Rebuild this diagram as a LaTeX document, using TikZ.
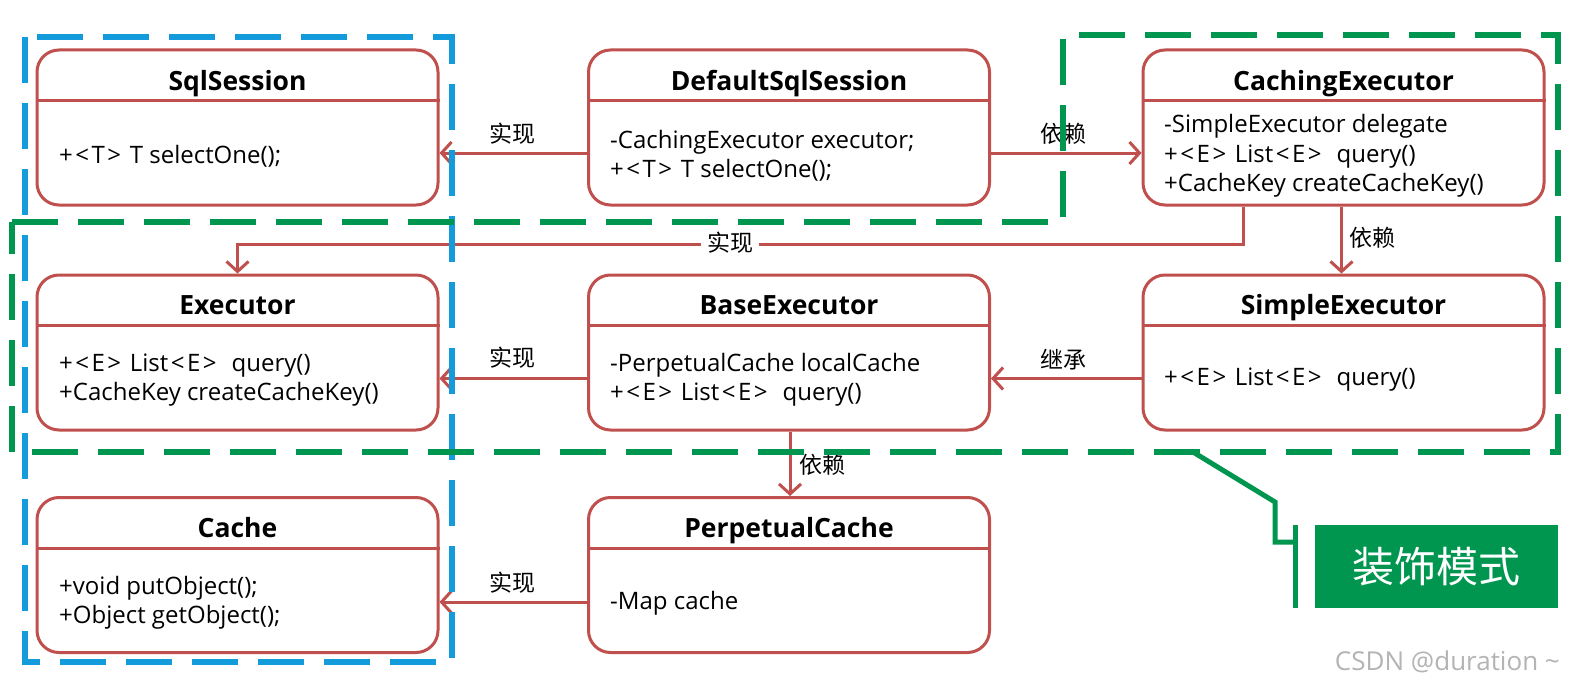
\documentclass[tikz,border=0pt]{standalone}
\usepackage{fontspec}
\setmainfont{Open Sans}
\newfontfamily\cjk{Noto Sans CJK SC}
\usetikzlibrary{arrows.meta,calc}
\definecolor{umlred}{RGB}{192,80,77}
\definecolor{dblue}{RGB}{20,155,220}
\definecolor{dgreen}{RGB}{0,150,80}
\definecolor{wmgray}{RGB}{180,180,180}
\newcommand\myLT{\kern2.5pt<\kern2.5pt}
\newcommand\myGT{\kern2.5pt>\kern2.5pt}
\begin{document}
\begin{tikzpicture}[x=1pt,y=-1pt,
 umlbox/.style={draw=umlred, line width=3pt, rounded corners=22pt, minimum width=401pt, minimum height=155pt, inner sep=0pt},
 sepline/.style={draw=umlred, line width=3pt},
 titletext/.style={font=\fontsize{26.5}{30}\selectfont\bfseries, inner sep=0pt, anchor=base},
 bodytext/.style={font=\fontsize{24}{29.5}\selectfont, align=left, anchor=west, inner sep=0pt},
 conn/.style={draw=umlred, line width=3pt, -{Straight Barb[length=10pt,width=22pt]}},
 lbl/.style={font=\cjk\fontsize{23}{26}\selectfont, inner sep=1pt},
 bluedash/.style={draw=dblue, line width=6pt, dash pattern=on 46pt off 20pt},
 greendash/.style={draw=dgreen, line width=6pt, dash pattern=on 46pt off 20pt},
]
\fill[white] (0,0) rectangle (1571,690);
\useasboundingbox (0,0) rectangle (1571,690);

% boxes
\node[umlbox] (ss) at (237.5,127.5) {};
\node[umlbox] (dss) at (789,127.5) {};
\node[umlbox] (ce) at (1343.5,127.5) {};
\node[umlbox] (ex) at (237.5,352.5) {};
\node[umlbox] (be) at (789,352.5) {};
\node[umlbox] (se) at (1343.5,352.5) {};
\node[umlbox] (ca) at (237.5,575) {};
\node[umlbox] (pc) at (789,575) {};

\foreach \b in {ss,dss,ce,ex,be,se,ca,pc}{
  \draw[sepline] ([yshift=-52pt]\b.north west) -- ([yshift=-52pt]\b.north east);
}

% titles
\node[titletext] (ssT) at ([yshift=-42pt]ss.north) {SqlSession};
\node[titletext] (dssT) at ([yshift=-42pt]dss.north) {DefaultSqlSession};
\node[titletext] (ceT) at ([yshift=-42pt]ce.north) {CachingExecutor};
\node[titletext] (exT) at ([yshift=-41pt]ex.north) {Executor};
\node[titletext] (beT) at ([yshift=-41pt]be.north) {BaseExecutor};
\node[titletext] (seT) at ([yshift=-41pt]se.north) {SimpleExecutor};
\node[titletext] (caT) at ([yshift=-41pt]ca.north) {Cache};
\node[titletext] (pcT) at ([yshift=-41pt]pc.north) {PerpetualCache};

% bodies
\node[bodytext] (ssB) at (59,156) {+\myLT T\myGT{} T selectOne();};
\node[bodytext] (dssB) at (610,156) {-CachingExecutor executor;\\+\myLT T\myGT{} T selectOne();};
\node[bodytext] (ceB) at (1164,156) {-SimpleExecutor delegate\\+\myLT E\myGT{} List\myLT E\myGT{} \ query()\\+CacheKey createCacheKey()};
\node[bodytext] (exB) at (59,380) {+\myLT E\myGT{} List\myLT E\myGT{} \ query()\\+CacheKey createCacheKey()};
\node[bodytext] (beB) at (610,380) {-PerpetualCache localCache\\+\myLT E\myGT{} List\myLT E\myGT{} \ query()};
\node[bodytext] (seB) at (1164,380) {+\myLT E\myGT{} List\myLT E\myGT{} \ query()};
\node[bodytext] (caB) at (59,603) {+void putObject();\\+Object getObject();};
\node[bodytext] (pcB) at (610,603) {-Map cache};

% connectors
\draw[conn] ([yshift=-25.5pt]dss.west) -- ([yshift=-25.5pt]ss.east);
\node[lbl] (l1) at (512,134) {实现};
\draw[conn] ([yshift=-25.5pt]dss.east) -- ([yshift=-25.5pt]ce.west);
\node[lbl] (l2) at (1063,134) {依赖};
\draw[conn] ([xshift=-100pt]ce.south) -- ++(0,38) -| (ex.north);
\node[lbl, fill=white, inner xsep=6pt] (l3) at (730,243) {实现};
\draw[conn] ([xshift=-2pt]ce.south) -- ([xshift=-2pt]se.north);
\node[lbl] (l4) at (1372,238) {依赖};
\draw[conn] ([yshift=-26pt]be.west) -- ([yshift=-26pt]ex.east);
\node[lbl] (l5) at (512,358) {实现};
\draw[conn] ([yshift=-26pt]se.west) -- ([yshift=-26pt]be.east);
\node[lbl] (l6) at (1063,360) {继承};
\draw[conn] ([xshift=1pt]be.south) -- ([xshift=1pt]pc.north);
\node[lbl] (l7) at (822,465) {依赖};
\draw[conn] ([yshift=-27pt]pc.west) -- ([yshift=-27pt]ca.east);
\node[lbl] (l8) at (512,583) {实现};

% dashed groups
\draw[bluedash] (25,37) rectangle (452,662);
\draw[greendash] (12,222) -- (1063,222) -- (1063,35) -- (1558,35) -- (1558,452) -- (12,452) -- cycle;

% callout
\draw[dgreen, line width=5pt] (1193,452) -- (1275,502) -- (1275,542) -- (1295,542);
\draw[dgreen, line width=5pt] (1295,525) -- (1295,608);
\node[fill=dgreen, minimum width=243pt, minimum height=83pt, inner sep=0pt, text=white, font=\cjk\fontsize{42}{46}\selectfont] (deco) at (1436.5,566.5) {装饰模式};

% watermark
\node[anchor=east, text=wmgray, font=\fontsize{26}{28}\selectfont, inner sep=0pt] (wm) at (1560,662) {CSDN @duration \textasciitilde};
\end{tikzpicture}
\end{document}
